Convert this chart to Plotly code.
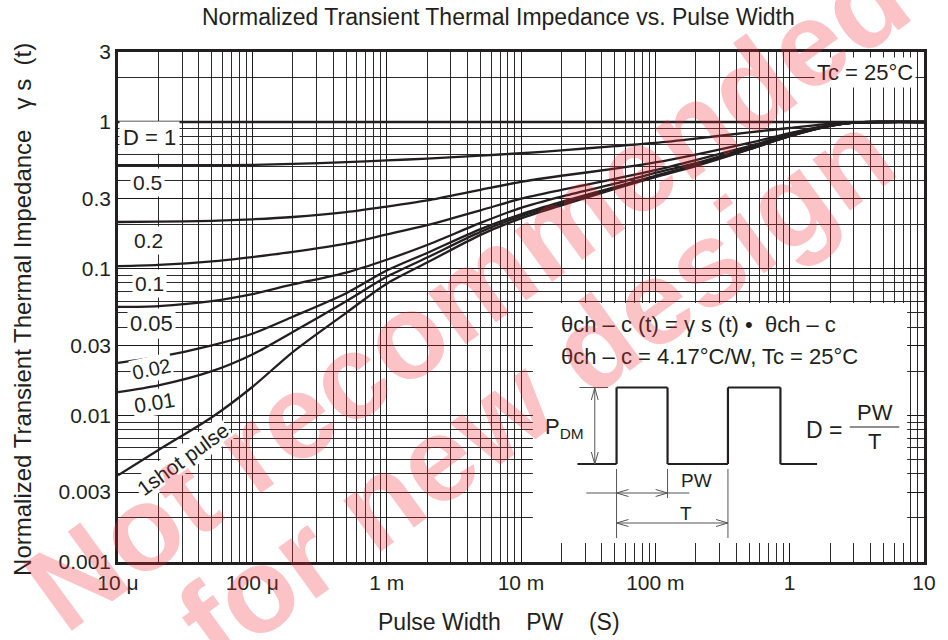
import plotly.graph_objects as go

# ---------------- data ----------------
pulse_width = [1e-5, 2e-5, 5e-5, 1e-4, 2e-4, 5e-4, 1e-3, 2e-3, 5e-3, 1e-2,
               2e-2, 5e-2, 0.1, 0.2, 0.5, 1, 2, 3, 5, 10]

d_1 = [1.0, 1.0, 1.0, 1.0, 1.0, 1.0, 1.0, 1.0, 1.0, 1.0,
       1.0, 1.0, 1.0, 1.0, 1.0, 1.0, 1.0, 1.0, 1.0, 1.0]
d_05 = [0.507, 0.507, 0.508, 0.51, 0.518, 0.532, 0.548, 0.562, 0.59, 0.612,
        0.64, 0.685, 0.72, 0.77, 0.85, 0.91, 0.975, 0.995, 1.0, 1.0]
d_02 = [0.208, 0.209, 0.212, 0.217, 0.225, 0.243, 0.265, 0.292, 0.345, 0.39,
        0.43, 0.48, 0.53, 0.60, 0.72, 0.84, 0.955, 0.992, 1.0, 1.0]
d_01 = [0.104, 0.106, 0.112, 0.12, 0.13, 0.148, 0.171, 0.198, 0.25, 0.30,
        0.345, 0.41, 0.47, 0.55, 0.685, 0.82, 0.945, 0.99, 1.0, 1.0]
d_005 = [0.0548, 0.0556, 0.060, 0.067, 0.078, 0.094, 0.115, 0.145, 0.205, 0.26,
         0.31, 0.38, 0.45, 0.525, 0.67, 0.81, 0.94, 0.99, 1.0, 1.0]
d_002 = [0.0228, 0.025, 0.030, 0.036, 0.047, 0.068, 0.097, 0.128, 0.186, 0.235,
         0.285, 0.36, 0.43, 0.51, 0.655, 0.80, 0.94, 0.99, 1.0, 1.0]
d_001 = [0.0144, 0.016, 0.020, 0.026, 0.037, 0.060, 0.088, 0.119, 0.178, 0.228,
         0.277, 0.355, 0.425, 0.505, 0.652, 0.80, 0.94, 0.99, 1.0, 1.0]
one_shot = [0.0039, 0.0058, 0.0097, 0.0156, 0.027, 0.050, 0.079, 0.11, 0.17, 0.22,
            0.27, 0.35, 0.42, 0.50, 0.65, 0.80, 0.94, 0.99, 1.0, 1.0]

series = [("D = 1", d_1), ("0.5", d_05), ("0.2", d_02), ("0.1", d_01),
          ("0.05", d_005), ("0.02", d_002), ("0.01", d_001), ("1shot pulse", one_shot)]

x_tick_vals = [1e-5, 1e-4, 1e-3, 1e-2, 1e-1, 1, 10]
x_tick_text = ["10 \u03bc", "100 \u03bc", "1 m", "10 m", "100 m", "1", "10"]
y_tick_vals = [0.001, 0.003, 0.01, 0.03, 0.1, 0.3, 1, 3]
y_tick_text = ["0.001", "0.003", "0.01", "0.03", "0.1", "0.3", "1", "3"]

# ---------------- layout helpers ----------------
W, H = 948, 640
L, R, T, B = 118, 932, 52, 562


def px(x):
    return (x - L) / (R - L)


def py(y):
    return (B - y) / (B - T)


FONT = "Liberation Sans, Arial, sans-serif"
INK = "#231f20"

x_minor = [m * 10 ** e for e in range(-5, 1) for m in range(2, 10)]
y_minor = [m * 10 ** e for e in range(-3, 1) for m in range(1, 10) if m * 10 ** e <= 3]

fig = go.Figure()
for name, vals in series:
    fig.add_trace(go.Scatter(
        x=pulse_width, y=vals, mode="lines", name=name,
        line=dict(color=INK, width=2.3, shape="spline", smoothing=0.8),
        showlegend=False, hoverinfo="skip"))

fig.update_layout(
    width=W, height=H,
    margin=dict(l=L, r=W - R, t=T, b=H - B),
    paper_bgcolor="white", plot_bgcolor="white",
    font=dict(family=FONT, color=INK, size=21),
    showlegend=False,
)
fig.update_xaxes(
    type="log", range=[-5, 1], tickmode="array",
    tickvals=x_tick_vals, ticktext=x_tick_text,
    showgrid=True, gridcolor="#1a1a1a", gridwidth=1,
    minor=dict(tickmode="array", tickvals=x_minor, showgrid=True,
               gridcolor="#2a2a2a", gridwidth=0.9, ticks=""),
    showline=True, linecolor=INK, linewidth=2.5, mirror=True,
    ticks="", zeroline=False, tickfont=dict(size=21),
)
fig.update_yaxes(
    type="log", range=[-3, 0.47712], tickmode="array",
    tickvals=y_tick_vals, ticktext=y_tick_text,
    showgrid=True, gridcolor="#1a1a1a", gridwidth=1,
    minor=dict(tickmode="array", tickvals=y_minor, showgrid=True,
               gridcolor="#2a2a2a", gridwidth=0.9, ticks=""),
    showline=True, linecolor=INK, linewidth=2.5, mirror=True,
    ticks="", zeroline=False, tickfont=dict(size=21),
)

shapes = []
# inset white box
shapes.append(dict(type="rect", xref="paper", yref="paper",
                   x0=px(537), x1=px(915), y0=py(543), y1=py(303),
                   fillcolor="white", line=dict(width=0), layer="above"))


def seg(x0, y0, x1, y1, w=1.0, c="#555"):
    shapes.append(dict(type="line", xref="paper", yref="paper",
                       x0=px(x0), y0=py(y0), x1=px(x1), y1=py(y1),
                       line=dict(color=c, width=w), layer="above"))


# pulse waveform
wave = [(582, 464), (621.5, 464), (621.5, 387.5), (673, 387.5), (673, 464),
        (734, 464), (734, 387.5), (787, 387.5), (787, 464), (824, 464)]
for (a, b), (c, d) in zip(wave[:-1], wave[1:]):
    seg(a, b, c, d, w=2.2, c=INK)

# P_DM dimension
seg(584, 387.5, 613, 387.5, w=1)
seg(599.5, 388, 599.5, 464, w=1)
seg(599.5, 388, 596, 400, w=1); seg(599.5, 388, 603, 400, w=1)
seg(599.5, 464, 596, 452, w=1); seg(599.5, 464, 603, 452, w=1)
# extension lines
seg(621.5, 469, 621.5, 538, w=1)
seg(673, 469, 673, 498, w=1)
seg(734, 469, 734, 538, w=1)
# PW arrow
seg(591, 493, 695, 493, w=1)
seg(621.5, 493, 633.5, 489.5, w=1); seg(621.5, 493, 633.5, 496.5, w=1)
seg(673, 493, 661, 489.5, w=1); seg(673, 493, 661, 496.5, w=1)
# T arrow
seg(621.5, 523, 734, 523, w=1)
seg(621.5, 523, 633.5, 519.5, w=1); seg(621.5, 523, 633.5, 526.5, w=1)
seg(734, 523, 722, 519.5, w=1); seg(734, 523, 722, 526.5, w=1)
# fraction bar
seg(857, 427, 907, 427, w=1.2, c=INK)

fig.update_layout(shapes=shapes)

ann = []


def text(x, y, s, size=21, angle=0, bg=None, xanchor="center", pad=1):
    d = dict(xref="paper", yref="paper", x=px(x), y=py(y), text=s, showarrow=False,
             font=dict(family=FONT, size=size, color=INK), textangle=angle,
             xanchor=xanchor, yanchor="middle", borderpad=pad)
    if bg:
        d["bgcolor"] = bg
    ann.append(d)


# title and axis titles
text(502, 17, "Normalized Transient Thermal Impedance vs. Pulse Width", size=23)
text(503, 622, "Pulse Width    PW    (S)", size=23)
text(21, 309, "Normalized Transient Thermal Impedance   \u03b3 s  (t)", size=24, angle=-90)

# curve labels
text(150, 138, "D = 1", size=22, bg="white", pad=3)
text(148, 182, "0.5", size=21, bg="white", pad=2)
text(149, 240, "0.2", size=21, bg="white", pad=2)
text(150, 283, "0.1", size=21, bg="white", pad=2)
text(152, 323, "0.05", size=22, bg="white", pad=2)
text(152, 369, "0.02", size=20, angle=-12, bg="white", pad=1)
text(155, 402, "0.01", size=21, angle=-9, bg="white", pad=1)
text(183, 459, "1shot pulse", size=21, angle=-36, bg="white", pad=1)

# Tc label
text(872, 73, "Tc = 25\u00b0C", size=22, bg="white", pad=2)

# inset text
text(563, 324, "\u03b8ch \u2013 c (t) = \u03b3 s (t) \u2022  \u03b8ch \u2013 c", size=22, xanchor="left")
text(563, 356, "\u03b8ch \u2013 c = 4.17\u00b0C/W, Tc = 25\u00b0C", size=22, xanchor="left")
text(569, 428, "P<sub>DM</sub>", size=22)
text(831, 430, "D =", size=23)
text(883, 413, "PW", size=22)
text(882, 441, "T", size=22)
text(702, 480, "PW", size=19)
text(692, 513, "T", size=19)

# watermark
for s, (cx, cy) in [("Not recommended", (470, 292)), ("for new design", (540, 387))]:
    ann.append(dict(xref="paper", yref="paper", x=px(cx), y=py(cy), text=s,
                    showarrow=False, textangle=-36,
                    font=dict(family=FONT, size=120, color="rgba(240,40,50,0.28)",
                              weight="bold"),
                    xanchor="center", yanchor="middle"))

fig.update_layout(annotations=ann)

fig.write_html("out.html", config={"displayModeBar": False},
               post_script="document.body.style.margin='0px';")
